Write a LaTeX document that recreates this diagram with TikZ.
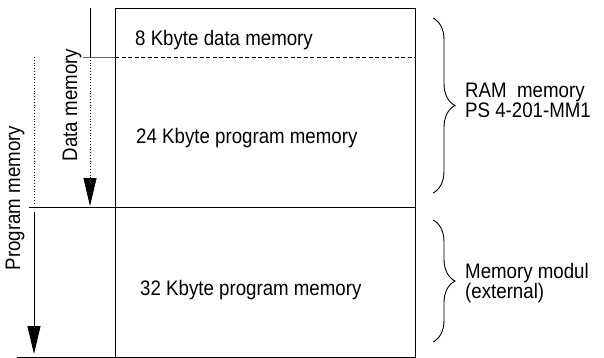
\documentclass[tikz,border=0pt]{standalone}
\usepackage{fontspec}
\setmainfont[FakeStretch=0.89]{Liberation Sans}
\usetikzlibrary{arrows.meta,decorations.pathreplacing}
\tikzset{
  lbl/.style={font=\fontsize{21}{23}\selectfont, inner sep=0pt, anchor=base west},
  vlbl/.style={font=\fontsize{21}{23}\selectfont, inner sep=0pt, rotate=90},
  frame/.style={line width=0.9pt, black},
  dotln/.style={line width=0.8pt, dash pattern=on 0.8pt off 2pt},
  tipped/.style={-{Triangle[length=28pt,width=13pt]}},
  brc/.style={line width=0.9pt, decorate, decoration={brace, amplitude=22pt}},
}
\begin{document}
\begin{tikzpicture}[x=1pt,y=-1pt]
\useasboundingbox (0,0) rectangle (604,358);
% memory box
\coordinate (tl) at (115,8);
\coordinate (br) at (415,357);
\draw[frame] (tl) rectangle (br);
\coordinate (midL) at (29,207);
\coordinate (midR) at (415,207);
\draw[frame] (midL) -- (midR);
\coordinate (botL) at (17,357);
\draw[frame] (botL) -- (br);
% boundary data/program
\coordinate (dashL) at (83,57);
\coordinate (dashM) at (115,57);
\coordinate (dashR) at (415,57);
\draw[line width=0.8pt, black!60] (dashL) -- (dashM);
\draw[line width=0.8pt, dash pattern=on 4pt off 2.5pt] (dashM) -- (dashR);
% data memory arrow
\coordinate (dA) at (90,8);
\coordinate (dB) at (90,57);
\coordinate (dC) at (90,206);
\draw[line width=0.9pt] (dA) -- (dB);
\draw[dotln] (dB) -- (90,180);
\draw[tipped, line width=0.9pt] (90,179) -- (dC);
% program memory arrow
\coordinate (pA) at (34,57);
\coordinate (pB) at (34,203);
\coordinate (pC) at (34,212);
\coordinate (pD) at (34,354);
\draw[dotln] (pA) -- (pB);
\draw[tipped, line width=0.9pt] (pC) -- (pD);
% labels
\node[vlbl] (dml) at (72,105) {Data memory};
\node[vlbl] (pml) at (15,198) {Program memory};
\node[lbl] (t8) at (135,46) {8 Kbyte data memory};
\node[lbl] (t24) at (136,143) {24 Kbyte program memory};
\node[lbl] (t32) at (140,295) {32 Kbyte program memory};
% braces
\coordinate (b1t) at (433,18);
\coordinate (b1b) at (433,193);
\coordinate (b2t) at (433,220);
\coordinate (b2b) at (433,342);
\draw[brc] (b1t) -- (b1b);
\draw[brc] (b2t) -- (b2b);
\node[lbl] (ram) at (465,98) {RAM\ \ memory};
\node[lbl] (ps) at (465,118) {PS 4-201-MM1};
\node[lbl] (mm) at (465,278) {Memory modul};
\node[lbl] (ext) at (465,298) {(external)};
\end{tikzpicture}
\end{document}
